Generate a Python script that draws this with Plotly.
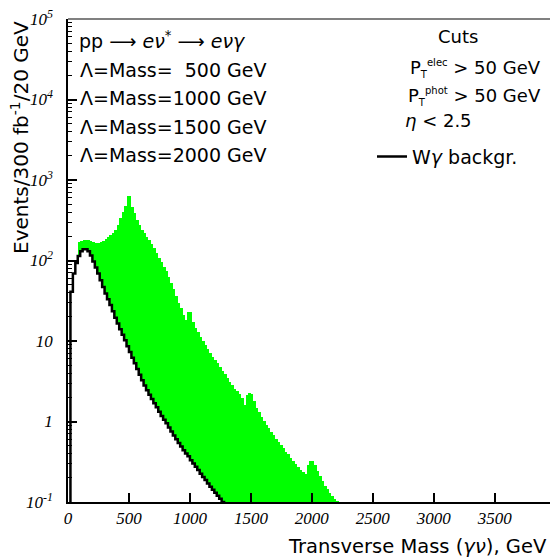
import plotly.graph_objects as go

# ---------------- data ----------------
BIN_WIDTH = 20  # GeV per bin

# total (signal + background), green histogram, bins starting at 0 GeV
total_counts = [
    0.01, 41, 69, 93, 171, 176, 180, 181, 180, 176,
    170, 165, 164, 168, 176, 185, 195, 207, 220, 239,
    276, 334, 404, 475, 632, 625, 466, 385, 318, 275,
    239, 218, 196, 180, 160, 142, 124, 106, 95, 83,
    74, 63, 53, 44, 36, 30, 25.5, 21, 18.2, 23,
    23, 17, 14.4, 12.8, 11.3, 10, 8.9, 8, 7, 6.4,
    5.8, 5.3, 4.8, 4.3, 3.9, 3.5, 3.1, 2.85, 2.55, 2.4,
    2.2, 1.95, 1.6, 2.15, 2.24, 2.2, 1.8, 1.46, 1.3, 1.15,
    1.02, 0.9, 0.82, 0.74, 0.68, 0.61, 0.56, 0.51, 0.47, 0.42,
    0.39, 0.35, 0.32, 0.295, 0.27, 0.25, 0.235, 0.222, 0.29, 0.326,
    0.326, 0.29, 0.24, 0.21, 0.18, 0.16, 0.145, 0.13, 0.118, 0.108,
    0.102,
]

# W-gamma background, bins starting at 0 GeV
bkg_counts = [
    0.01, 41, 69, 93, 114, 130, 138, 138, 130, 115,
    97, 82, 69, 57, 47, 39, 33, 28, 23.5, 19.5,
    16.5, 14, 12, 10.2, 8.6, 7.3, 6.2, 5.3, 4.5, 3.8,
    3.25, 2.8, 2.45, 2.15, 1.9, 1.68, 1.5, 1.32, 1.17, 1.05,
    0.95, 0.84, 0.75, 0.67, 0.6, 0.54, 0.49, 0.44, 0.4, 0.37,
    0.33, 0.3, 0.275, 0.25, 0.225, 0.205, 0.188, 0.17, 0.155, 0.142,
    0.13, 0.12, 0.11, 0.1, 0.09, 0.082, 0.075,
]

x_tick_values = [0, 500, 1000, 1500, 2000, 2500, 3000, 3500]
y_tick_values = [0.1, 1, 10, 100, 1000, 10000, 100000]
y_tick_labels = ["10<sup>-1</sup>", "1", "10", "10<sup>2</sup>", "10<sup>3</sup>",
                 "10<sup>4</sup>", "10<sup>5</sup>"]

mass_lines = ["500", "1000", "1500", "2000"]

# ---------------- derived ----------------
total_edges = [BIN_WIDTH * i for i in range(len(total_counts))]
bkg_edges = [BIN_WIDTH * i for i in range(len(bkg_counts))]

W, H = 550, 560
L, R, T, B = 68, 550, 19, 502


def pxx(x):
    return (x - L) / (R - L)


def pxy(y):
    return (B - y) / (B - T)


SANS = "DejaVu Sans"
SERIF = "Liberation Serif"

fig = go.Figure()
fig.add_trace(go.Bar(
    x=[e + BIN_WIDTH / 2 for e in total_edges], y=total_counts, width=BIN_WIDTH,
    marker=dict(color="#00ff00", line=dict(width=0)), showlegend=False, hoverinfo="skip"))
fig.add_trace(go.Bar(
    x=[e + BIN_WIDTH / 2 for e in bkg_edges], y=bkg_counts, width=BIN_WIDTH,
    marker=dict(color="white", line=dict(width=0)), showlegend=False, hoverinfo="skip"))
fig.add_trace(go.Scatter(
    x=bkg_edges + [bkg_edges[-1] + BIN_WIDTH], y=bkg_counts + [bkg_counts[-1]],
    mode="lines", line=dict(color="black", width=2.5, shape="hv"),
    name="W<i>γ</i> backgr.", hoverinfo="skip"))

minor_vals = [k * 10 ** e for e in range(-1, 5) for k in range(2, 10)]

fig.update_layout(
    width=W, height=H,
    margin=dict(l=L, r=W - R, t=T, b=H - B, autoexpand=False),
    paper_bgcolor="white", plot_bgcolor="white",
    barmode="overlay", bargap=0,
    showlegend=True,
    legend=dict(x=pxx(372), y=pxy(156.7), xanchor="left", yanchor="middle",
                font=dict(family=SANS, size=19, color="black"),
                bgcolor="rgba(0,0,0,0)", borderwidth=0),
    xaxis=dict(range=[0, 3953], tickmode="array", tickvals=x_tick_values,
               ticks="inside", ticklen=9, tickwidth=1.5, tickcolor="black",
               showline=True, linecolor="black", linewidth=1.5, automargin=False,
               showgrid=False, zeroline=False, ticklabelstandoff=0,
               tickfont=dict(family=SERIF, size=17, color="black", style="italic")),
    yaxis=dict(type="log", range=[-1, 5], tickmode="array", tickvals=y_tick_values,
               ticktext=y_tick_labels, automargin=False,
               ticks="inside", ticklen=9, tickwidth=1.5, tickcolor="black",
               minor=dict(tickmode="array", tickvals=minor_vals, ticks="inside",
                          ticklen=4.5, tickwidth=1, tickcolor="black", showgrid=False),
               showline=True, linecolor="black", linewidth=1.5,
               showgrid=False, zeroline=False, ticklabelstandoff=10,
               tickfont=dict(family=SERIF, size=17, color="black", style="italic")),
)

# grey top frame
fig.add_shape(type="line", xref="paper", yref="paper", x0=0, x1=1, y0=1, y1=1,
              line=dict(color="#808080", width=2))

small = '<span style="font-size:10px">'
ann = []
ann.append(dict(text="Events/300 fb<sup>-1</sup>/20 GeV", x=pxx(20), y=pxy(138),
                textangle=-90, xanchor="center", yanchor="middle",
                font=dict(family=SANS, size=20, color="black")))
ann.append(dict(text="Transverse Mass (<i>γν</i>), GeV", x=pxx(549), y=pxy(546),
                xanchor="right", yanchor="middle",
                font=dict(family=SANS, size=19.5, color="black")))
ann.append(dict(text="pp ⟶ <i>eν</i><sup>*</sup> ⟶ <i>eνγ</i>", x=pxx(77), y=pxy(40),
                xanchor="left", yanchor="middle",
                font=dict(family=SANS, size=19, color="black")))
for i, m in enumerate(mass_lines):
    pad = "\u2007" * (4 - len(m))
    ann.append(dict(text=f"Λ=Mass={pad}{m} GeV", x=pxx(78), y=pxy(70 + 28.4 * i),
                    xanchor="left", yanchor="middle",
                    font=dict(family=SANS, size=19, color="black")))
ann.append(dict(text="Cuts", x=pxx(457.5), y=pxy(37), xanchor="center", yanchor="middle",
                font=dict(family=SANS, size=18, color="black")))
ann.append(dict(text=f"P<sub>{small}T</span></sub><sup>{small}elec</span></sup> &gt; 50 GeV",
                x=pxx(543), y=pxy(68), xanchor="right", yanchor="middle",
                font=dict(family=SANS, size=18, color="black")))
ann.append(dict(text=f"P<sub>{small}T</span></sub><sup>{small}phot</span></sup> &gt; 50 GeV",
                x=pxx(543), y=pxy(96.7), xanchor="right", yanchor="middle",
                font=dict(family=SANS, size=18, color="black")))
ann.append(dict(text="<i>η</i> &lt; 2.5", x=pxx(403), y=pxy(121),
                xanchor="left", yanchor="middle",
                font=dict(family=SANS, size=18, color="black")))
for a in ann:
    a.update(xref="paper", yref="paper", showarrow=False)
fig.update_layout(annotations=ann)

fig.write_html("out.html",
               config={"displayModeBar": False},
               post_script="document.body.style.margin='0';"
                           "document.documentElement.style.overflow='hidden';")
